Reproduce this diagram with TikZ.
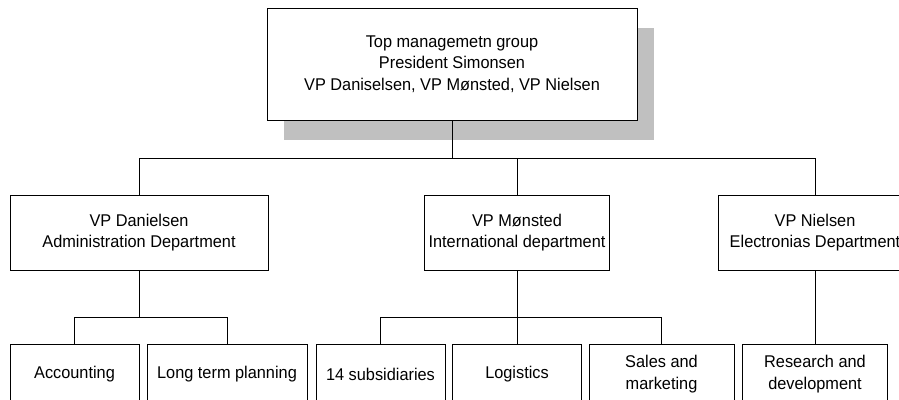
\documentclass[tikz,border=0pt]{standalone}
\usepackage{fontspec}
\setmainfont[FakeStretch=0.96]{Liberation Sans}
\usetikzlibrary{shadows}
\definecolor{shadowgray}{RGB}{192,192,192}
\begin{document}
\begin{tikzpicture}[x=1pt,y=-1pt,
  box/.style={draw=black,line width=1pt,fill=white,inner sep=0pt,align=center,
    font=\fontsize{17}{21.5}\selectfont},
  conn/.style={draw=black,line width=1pt}]
\useasboundingbox (0,0) rectangle (899,399);
\clip (0,0) rectangle (899,399);
% top
\node[box,minimum width=370pt,minimum height=112pt,
  general shadow={fill=shadowgray,shadow xshift=17pt,shadow yshift=-20pt}] (top) at (452,64)
  {Top managemetn group\\President Simonsen\\VP Daniselsen, VP Mønsted, VP Nielsen};
% level 2
\node[box,minimum width=258pt,minimum height=75pt] (dan) at (139,232.5) {VP Danielsen\\Administration Department};
\node[box,minimum width=185pt,minimum height=75pt] (mon) at (517,232.5) {VP Mønsted\\International department};
\node[box,minimum width=194pt,minimum height=75pt] (niel) at (815,232.5) {VP Nielsen\\Electronias Department};
% level 3
\node[box,minimum width=129pt,minimum height=60pt] (acc) at (74.5,374) {Accounting};
\node[box,minimum width=160pt,minimum height=60pt] (ltp) at (227,374) {Long term planning};
\node[box,minimum width=129pt,minimum height=60pt] (sub) at (380.5,374) {14 subsidiaries};
\node[box,minimum width=129pt,minimum height=60pt] (log) at (517,374) {Logistics};
\node[box,minimum width=145pt,minimum height=60pt] (sal) at (661.5,374) {Sales and\\marketing};
\node[box,minimum width=145pt,minimum height=60pt] (rd) at (815,374) {Research and\\development};
% buses
\coordinate (busA) at (0,158);
\coordinate (busB) at (0,317);
\draw[conn] (top.south) -- (top.south |- busA);
\draw[conn] (dan.north) |- (niel.north |- busA) -- (niel.north);
\draw[conn] (mon.north) -- (mon.north |- busA);
\draw[conn] (dan.south) -- (dan.south |- busB);
\draw[conn] (acc.north) |- (ltp.north |- busB) -- (ltp.north);
\draw[conn] (sub.north) |- (sal.north |- busB) -- (sal.north);
\draw[conn] (mon.south) -- (log.north);
\draw[conn] (niel.south) -- (rd.north);
\end{tikzpicture}
\end{document}
